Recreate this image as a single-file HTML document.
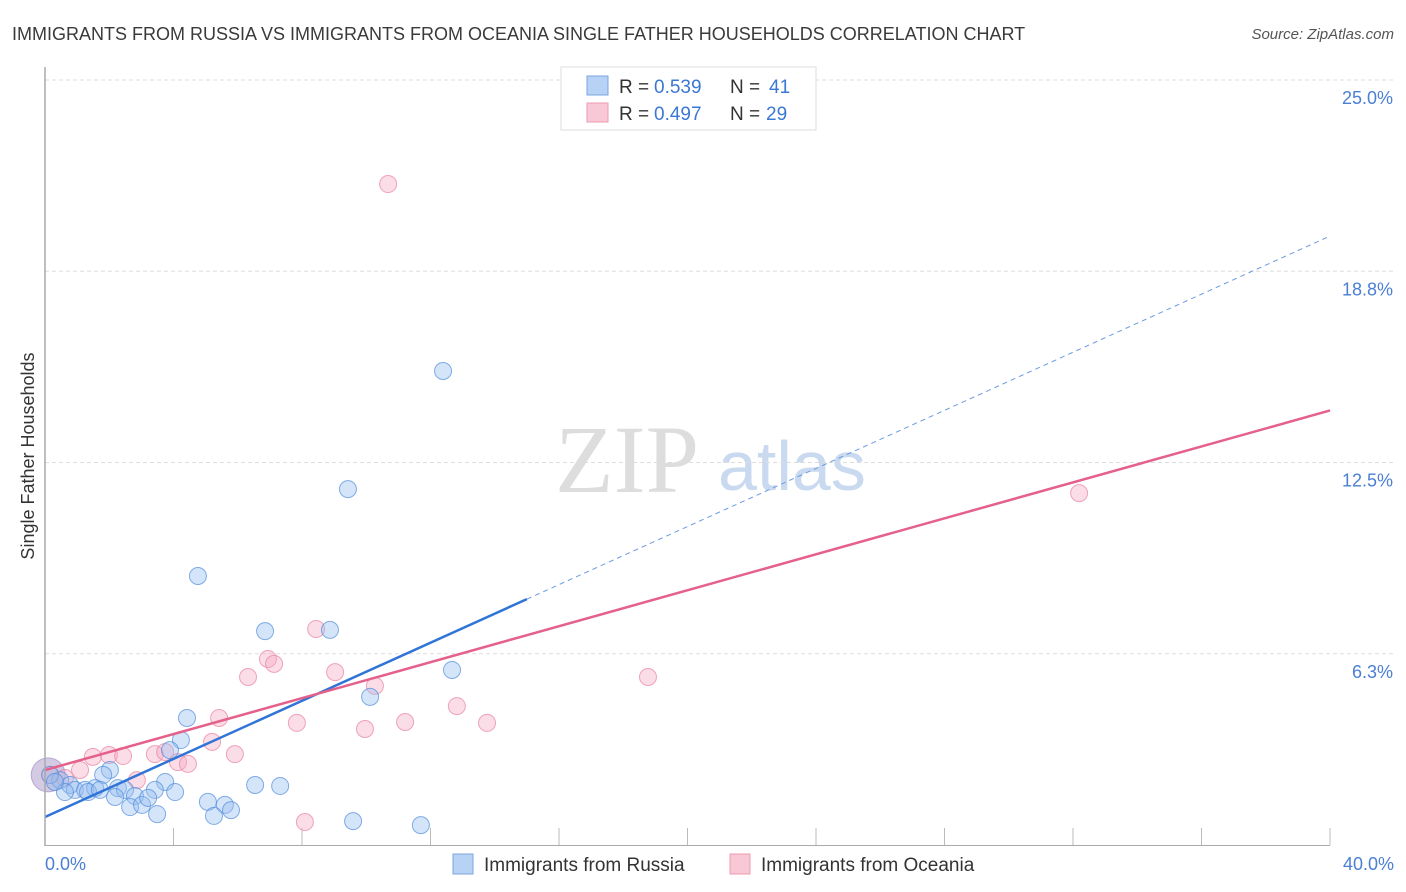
<!DOCTYPE html>
<html><head><meta charset="utf-8"><style>
body{margin:0;background:#fff;font-family:"Liberation Sans",sans-serif;}
#c{position:relative;width:1406px;height:892px;overflow:hidden}
</style></head><body><div id="c">
<svg width="1406" height="892" id="svg">
<text x="12" y="40" font-size="18" fill="#3a3a3a">IMMIGRANTS FROM RUSSIA VS IMMIGRANTS FROM OCEANIA SINGLE FATHER HOUSEHOLDS CORRELATION CHART</text>
<text x="1394" y="39" font-size="15" fill="#555" font-style="italic" text-anchor="end">Source: ZipAtlas.com</text>
<text x="555" y="492" font-size="96" fill="#ddd" font-family="Liberation Serif">ZIP</text>
<text x="718" y="490" font-size="70" fill="#c9d9f0">atlas</text>
<text transform="translate(34,456) rotate(-90)" font-size="18" fill="#333" text-anchor="middle">Single Father Households</text>
<g id="grid"></g><g id="pts"></g><g id="lines"></g>
<line x1="45" y1="67" x2="45" y2="846" stroke="#aaa" stroke-width="1.5"/>
<line x1="45" y1="845.5" x2="1330" y2="845.5" stroke="#aaa" stroke-width="1"/>
<text x="45" y="870" font-size="18" fill="#4a7fd4">0.0%</text>
<text x="1394" y="870" font-size="18" fill="#4a7fd4" text-anchor="end">40.0%</text>
<g>
<rect x="561" y="67" width="255" height="63" fill="#fff" stroke="#ddd"/>
<rect x="587" y="76" width="21" height="19" fill="#b7d2f5" stroke="#7aa6e0"/>
<rect x="587" y="103" width="21" height="19" fill="#f9c8d6" stroke="#ee9ab3"/>
<text x="619" y="93" font-size="19" fill="#333">R =</text>
<text x="654" y="93" font-size="19" fill="#3a78d4">0.539</text>
<text x="730" y="93" font-size="19" fill="#333">N =</text>
<text x="769" y="93" font-size="19" fill="#3a78d4">41</text>
<text x="619" y="120" font-size="19" fill="#333">R =</text>
<text x="654" y="120" font-size="19" fill="#3a78d4">0.497</text>
<text x="730" y="120" font-size="19" fill="#333">N =</text>
<text x="766" y="120" font-size="19" fill="#3a78d4">29</text>
</g>
<g>
<rect x="453" y="854" width="20" height="20" fill="#b7d2f5" stroke="#7aa6e0"/>
<text x="484" y="871" font-size="19" fill="#333">Immigrants from Russia</text>
<rect x="730" y="854" width="20" height="20" fill="#f9c8d6" stroke="#ee9ab3"/>
<text x="761" y="871" font-size="19" fill="#333">Immigrants from Oceania</text>
</g>
</svg></div>
<script>
const yTicks=[6.25,12.5,18.75,25];
const yTickLabels=["6.3%","12.5%","18.8%","25.0%"];
const xTicks=[4,8,12,16,20,24,28,32,36,40];
const russiaX=[12.39,9.43,4.76,6.85,8.87,12.67,10.12,4.42,4.23,3.89,2.02,1.81,3.74,6.54,7.32,3.42,4.05,0.47,0.78,0.93,1.25,1.56,0.62,1.34,2.27,2.49,2.18,2.80,2.65,3.02,3.21,3.49,5.07,5.60,5.26,5.79,9.59,11.70,0.16,0.31,1.71];
const russiaY=[15.49,11.63,8.79,6.99,7.03,5.72,4.84,4.15,3.43,3.10,2.45,2.29,2.06,1.96,1.93,1.80,1.73,2.12,1.96,1.80,1.80,1.86,1.73,1.73,1.86,1.80,1.57,1.60,1.24,1.31,1.54,1.01,1.41,1.31,0.95,1.14,0.78,0.65,2.29,2.06,1.80];
const oceaniaX=[10.68,32.19,8.44,6.94,7.13,9.03,6.32,18.77,10.27,12.82,5.42,7.84,11.21,13.76,9.96,5.20,1.49,1.99,2.43,3.42,3.74,4.14,4.45,5.91,1.09,2.86,8.09,0.16,0.62];
const oceaniaY=[21.60,11.50,7.06,6.08,5.92,5.65,5.49,5.49,5.20,4.54,4.15,3.99,4.02,3.99,3.79,3.37,2.88,2.94,2.91,2.97,3.04,2.71,2.65,2.97,2.45,2.12,0.75,2.29,2.19];
const russiaTrend=[0.915,19.9];
const russiaSolidEnd=15;
const oceaniaTrend=[2.45,14.2];
const X=v=>45+v*32.125, Y=v=>845-v*30.6;
const NS="http://www.w3.org/2000/svg";
function mk(t,a,p){const e=document.createElementNS(NS,t);for(const k in a)e.setAttribute(k,a[k]);p.appendChild(e);return e;}
const grid=document.getElementById('grid'),pts=document.getElementById('pts'),lines=document.getElementById('lines');
yTicks.forEach((v,i)=>{
 const l=mk('line',{x1:45,x2:1394,y1:Y(v),y2:Y(v),stroke:'#ddd','stroke-dasharray':'4,3'},grid);
 
 
 const t=mk('text',{x:1393,y:Y(v)+24,'font-size':18,fill:'#4a7fd4','text-anchor':'end'},grid);
 t.textContent=yTickLabels[i];
 
 
});
xTicks.forEach(v=>{
 const l=mk('line',{x1:X(v),x2:X(v),y1:828,y2:845,stroke:'#bbb'},grid);
 
 
});
const big=mk('circle',{cx:X(0.1),cy:Y(2.29),r:17,fill:'rgba(170,150,200,0.5)',stroke:'rgba(150,130,190,0.6)'},pts);


oceaniaX.forEach((x,i)=>{
 const c=mk('circle',{cx:X(x),cy:Y(oceaniaY[i]),r:8.5,fill:'rgba(246,170,195,0.4)',stroke:'rgba(232,130,160,0.7)'},pts);
 
 
});
russiaX.forEach((x,i)=>{
 const c=mk('circle',{cx:X(x),cy:Y(russiaY[i]),r:8.5,fill:'rgba(150,190,240,0.4)',stroke:'rgba(80,140,220,0.7)'},pts);
 
 
});
const ry=x=>russiaTrend[0]+(russiaTrend[1]-russiaTrend[0])*x/40;
let l1=mk('line',{x1:X(0),y1:Y(ry(0)),x2:X(russiaSolidEnd),y2:Y(ry(russiaSolidEnd)),stroke:'#2f74d6','stroke-width':2.5},lines);


let l2=mk('line',{x1:X(russiaSolidEnd),y1:Y(ry(russiaSolidEnd)),x2:X(40),y2:Y(ry(40)),stroke:'#6a9be0','stroke-width':1,'stroke-dasharray':'5,4'},lines);


let l3=mk('line',{x1:X(0),y1:Y(oceaniaTrend[0]),x2:X(40),y2:Y(oceaniaTrend[1]),stroke:'#e5608a','stroke-width':2.5},lines);


</script></body></html>
